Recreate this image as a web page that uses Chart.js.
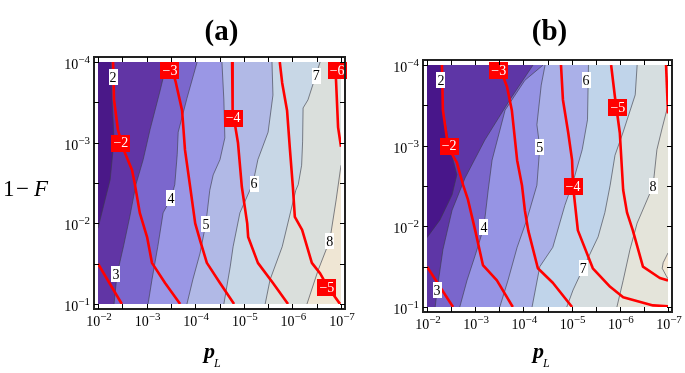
<!DOCTYPE html>
<html><head><meta charset="utf-8">
<script src="https://cdn.jsdelivr.net/npm/chart.js@4.4.1/dist/chart.umd.min.js"></script>
<style>
html,body{margin:0;padding:0;background:#fff;}
#wrap{position:relative;width:685px;height:373px;overflow:hidden;}
canvas{position:absolute;left:0;top:0;}
</style></head><body>
<div id="wrap"><canvas id="ca" width="685" height="373"></canvas><canvas id="cb" width="685" height="373"></canvas></div>
<script>
// ---- axis ranges (log10 values) ----
const X_RANGE = [-2, -7];          // log10 p_L : left -> right
const Y_RANGE = [-4, -1];          // log10 (1-F): top -> bottom
const X_LABEL_EXP = [-2, -3, -4, -5, -6, -7];
const Y_LABEL_EXP = [-4, -3, -2, -1];
const X_FRAME_TICKS = [-2, -2.5, -3, -3.5, -4, -4.5, -5, -5.5, -6, -6.5, -7];
const Y_FRAME_TICKS = [-4, -3.5, -3, -2.5, -2, -1.5, -1];

// ---- panel (a): contour levels [log10 x, log10 y] ----
const A_LEVELS = [2, 3, 4, 5, 6, 7, 8];
const A_C2 = [[-2.27,-4.00],[-2.29,-3.53],[-2.33,-3.03],[-2.25,-2.54],[-2.12,-2.23],[-2.00,-1.94]];
const A_C3 = [[-3.42,-4.00],[-3.28,-3.65],[-3.07,-3.16],[-2.93,-2.79],[-2.78,-2.48],[-2.66,-2.10],[-2.53,-1.73],[-2.39,-1.36],[-2.33,-1.00]];
const A_C4 = [[-4.04,-4.00],[-3.83,-3.55],[-3.65,-3.13],[-3.63,-2.85],[-3.58,-2.48],[-3.50,-2.31],[-3.34,-2.13],[-3.23,-1.71],[-3.11,-1.30],[-3.03,-1.00]];
const A_C5 = [[-4.55,-4.00],[-4.59,-3.53],[-4.61,-3.06],[-4.51,-2.79],[-4.37,-2.60],[-4.30,-2.41],[-4.22,-2.00],[-4.10,-1.63],[-3.95,-1.30],[-3.83,-1.00]];
const A_C6 = [[-5.58,-4.00],[-5.60,-3.59],[-5.50,-3.13],[-5.29,-2.79],[-5.19,-2.50],[-4.92,-2.13],[-4.78,-1.71],[-4.72,-1.46],[-4.59,-1.00]];
const A_C7 = [[-6.57,-4.00],[-6.47,-3.81],[-6.32,-3.53],[-6.22,-3.43],[-6.21,-3.01],[-6.19,-2.72],[-6.12,-2.48],[-6.07,-2.41],[-5.79,-1.71],[-5.54,-1.30],[-5.44,-1.00]];
const A_C8 = [[-7.00,-2.72],[-6.90,-2.29],[-6.77,-1.79],[-6.53,-1.42],[-6.30,-1.00]];
// red curves (a)
const A_R1 = [[-2.00,-1.50],[-2.49,-1.00]];
const A_R2 = [[-2.31,-4.00],[-2.33,-3.53],[-2.41,-3.16],[-2.53,-2.91],[-2.70,-2.66],[-2.76,-2.48],[-2.86,-2.13],[-3.01,-1.83],[-3.11,-1.51],[-3.38,-1.26],[-3.69,-1.00]];
const A_R3 = [[-3.48,-4.00],[-3.60,-3.75],[-3.73,-3.40],[-3.79,-2.91],[-3.89,-2.48],[-4.00,-2.00],[-4.10,-1.79],[-4.24,-1.51],[-4.51,-1.26],[-4.80,-1.00]];
const A_R4 = [[-4.76,-4.00],[-4.77,-3.40],[-4.88,-3.00],[-4.96,-2.45],[-5.07,-2.00],[-5.09,-1.83],[-5.29,-1.51],[-5.60,-1.26],[-5.91,-1.00]];
const A_R5 = [[-5.74,-4.00],[-5.79,-3.74],[-5.89,-3.40],[-5.95,-2.91],[-6.01,-2.45],[-6.05,-2.08],[-6.20,-1.92],[-6.40,-1.51],[-6.57,-1.38],[-6.73,-1.21],[-6.98,-1.00]];
const A_R6 = [[-6.88,-4.00],[-6.90,-3.74],[-6.94,-3.19],[-7.00,-2.95]];
// labels (a)
const A_LEVEL_TEXT = ['2','3','4','5','6','7','8'];
const A_LEVEL_POS = [[-2.31,-3.81],[-2.37,-1.37],[-3.50,-2.31],[-4.22,-1.99],[-5.21,-2.49],[-6.49,-3.83],[-6.77,-1.78]];
const A_RED_TEXT = ['\u22122','\u22123','\u22124','\u22125','\u22126'];
const A_RED_POS = [[-2.47,-3.00],[-3.48,-3.90],[-4.78,-3.31],[-6.71,-1.21],[-6.92,-3.90]];

// ---- panel (b) ----
const B_LEVELS = [2, 3, 4, 5, 6, 7, 8, 9];
const B_C2 = [[-2.29,-4.00],[-2.33,-3.44],[-2.46,-3.01],[-2.62,-2.64],[-2.52,-2.39],[-2.27,-2.08],[-2.00,-1.86]];
const B_C3 = [[-4.20,-4.00],[-3.72,-3.57],[-3.20,-3.07],[-2.79,-2.60],[-2.52,-2.20],[-2.33,-1.71],[-2.21,-1.21],[-2.17,-1.00]];
const B_C4 = [[-4.41,-4.00],[-4.03,-3.81],[-3.62,-3.44],[-3.35,-2.82],[-3.27,-2.45],[-3.18,-1.99],[-3.00,-1.64],[-2.83,-1.33],[-2.68,-1.00]];
const B_C5 = [[-4.45,-4.00],[-4.37,-3.75],[-4.28,-3.26],[-4.34,-2.98],[-4.28,-2.51],[-4.07,-2.08],[-3.87,-1.74],[-3.68,-1.33],[-3.51,-1.00]];
const B_C6 = [[-5.35,-4.00],[-5.33,-3.32],[-5.22,-2.95],[-5.03,-2.55],[-4.86,-2.26],[-4.61,-1.74],[-4.34,-1.50],[-4.18,-1.00]];
const B_C7 = [[-6.36,-4.00],[-6.32,-3.63],[-6.07,-3.17],[-5.90,-2.88],[-5.80,-2.51],[-5.69,-2.17],[-5.55,-1.87],[-5.32,-1.58],[-5.24,-1.48],[-5.03,-1.21],[-4.90,-1.00]];
const B_C8 = [[-7.00,-3.50],[-6.88,-3.22],[-6.77,-2.95],[-6.69,-2.50],[-6.36,-2.04],[-6.21,-1.71],[-6.07,-1.33],[-5.94,-1.00]];
const B_C9 = [[-7.00,-1.67],[-6.90,-1.55],[-6.88,-1.48],[-6.96,-1.39],[-7.00,-1.35]];
// red curves (b)
const B_R1 = [[-2.00,-1.50],[-2.54,-1.00]];
const B_R2 = [[-2.31,-4.00],[-2.33,-3.44],[-2.44,-2.98],[-2.62,-2.79],[-2.75,-2.51],[-2.85,-2.33],[-3.00,-1.95],[-3.16,-1.52],[-3.45,-1.33],[-3.78,-1.00]];
const B_R3 = [[-3.49,-4.00],[-3.66,-3.73],[-3.76,-3.44],[-3.87,-2.82],[-3.97,-2.51],[-4.03,-2.20],[-4.10,-1.95],[-4.30,-1.48],[-4.61,-1.30],[-5.01,-1.00]];
const B_R4 = [[-4.78,-4.00],[-4.82,-3.57],[-4.93,-3.16],[-5.01,-2.82],[-5.03,-2.50],[-5.13,-1.95],[-5.44,-1.48],[-5.80,-1.25],[-6.07,-1.12],[-6.69,-1.02],[-7.00,-1.01]];
const B_R5 = [[-5.82,-4.00],[-5.90,-3.60],[-6.00,-3.16],[-6.07,-2.45],[-6.15,-2.17],[-6.27,-1.95],[-6.48,-1.50],[-6.83,-1.36],[-7.00,-1.33]];
const B_R6 = [[-6.96,-4.00],[-7.00,-3.40]];
// labels (b)
const B_LEVEL_TEXT = ['2','3','4','5','6','7','8'];
const B_LEVEL_POS = [[-2.29,-3.81],[-2.21,-1.21],[-3.18,-1.99],[-4.34,-2.98],[-5.30,-3.81],[-5.24,-1.48],[-6.69,-2.50]];
const B_RED_TEXT = ['\u22122','\u22123','\u22124','\u22125'];
const B_RED_POS = [[-2.46,-3.00],[-3.49,-3.94],[-5.03,-2.50],[-5.96,-3.48]];

// ---- styles ----
const A_FILLS = ['#4a1888','#6135a5','#7b67cd','#9a97e5','#b1b9e6','#c8d7e6','#dadfdc','#efe6d4'];
const B_FILLS = ['#48168a','#5e36a6','#7a66cc','#9694e4','#aab0e8','#c0d4ea','#d6dee0','#e4e4da','#f0e6d4'];
const GRAY_LINE = 'rgba(60,62,72,0.62)';
const RED = '#ff0000';
const SERIF = "'Liberation Serif','Times New Roman',serif";

function perim(p) {
  const [xL, xR] = X_RANGE, [yT, yB] = Y_RANGE, e = 1e-6;
  const [x, y] = p;
  if (Math.abs(y - yB) < e) return (x - xR) / (xL - xR);
  if (Math.abs(x - xL) < e) return 1 + (yB - y) / (yB - yT);
  if (Math.abs(y - yT) < e) return 2 + (x - xL) / (xR - xL);
  return 3 + (y - yT) / (yB - yT);
}
function regionPolygon(line) {
  const corners = [[X_RANGE[1], Y_RANGE[1]], [X_RANGE[0], Y_RANGE[1]], [X_RANGE[0], Y_RANGE[0]], [X_RANGE[1], Y_RANGE[0]]];
  const te = perim(line[line.length - 1]);
  let ts = perim(line[0]);
  if (ts <= te) ts += 4;
  const pts = line.slice();
  for (let c = Math.floor(te) + 1; c < ts; c++) pts.push(corners[c % 4]);
  return pts;
}
const toXY = arr => arr.map(p => ({x: p[0], y: p[1]}));

function makePlugin(panel) {
  return {
    id: 'deco',
    beforeDatasetsDraw(chart) {
      const {ctx, chartArea: a} = chart;
      ctx.save();
      ctx.fillStyle = panel.fills[panel.fills.length - 1];
      ctx.fillRect(a.left, a.top, a.right - a.left, a.bottom - a.top);
      ctx.restore();
    },
    afterDatasetsDraw(chart) {
      const {ctx} = chart;
      const xs = chart.scales.x, ys = chart.scales.y;
      ctx.save();
      ctx.textAlign = 'center'; ctx.textBaseline = 'middle';
      ctx.font = '14px ' + SERIF;
      panel.levelText.forEach((t, i) => {
        const px = xs.getPixelForValue(panel.levelPos[i][0]);
        const py = ys.getPixelForValue(panel.levelPos[i][1]);
        const w = ctx.measureText(t).width;
        ctx.fillStyle = '#ffffff';
        ctx.fillRect(Math.round(px - w / 2 - 1), Math.round(py - 8), Math.round(w + 2), 16);
        ctx.fillStyle = '#000';
        ctx.fillText(t, px, py + 1);
      });
      panel.redText.forEach((t, i) => {
        const px = xs.getPixelForValue(panel.redPos[i][0]);
        const py = ys.getPixelForValue(panel.redPos[i][1]);
        const w = ctx.measureText(t).width;
        ctx.fillStyle = RED;
        ctx.fillRect(Math.round(px - w / 2 - 2), Math.round(py - 8), Math.round(w + 4), 17);
        ctx.fillStyle = '#fff';
        ctx.fillText(t, px, py + 1);
      });
      ctx.restore();
    },
    afterDraw(chart) {
      const {ctx, chartArea: a} = chart;
      const xs = chart.scales.x, ys = chart.scales.y;
      const f = {l: a.left - 4, r: a.right + 4, t: a.top - 5, b: a.bottom + 5};
      ctx.save();
      ctx.strokeStyle = '#222'; ctx.lineWidth = 2;
      ctx.strokeRect(f.l, f.t, f.r - f.l, f.b - f.t);
      ctx.lineWidth = 1; ctx.strokeStyle = '#000';
      ctx.beginPath();
      X_FRAME_TICKS.forEach(v => {
        const px = Math.round(xs.getPixelForValue(v)) + 0.5;
        ctx.moveTo(px, f.t); ctx.lineTo(px, f.t + 5);
        ctx.moveTo(px, f.b); ctx.lineTo(px, f.b - 5);
      });
      Y_FRAME_TICKS.forEach(v => {
        const py = Math.round(ys.getPixelForValue(v)) + 0.5;
        ctx.moveTo(f.l, py); ctx.lineTo(f.l + 5, py);
        ctx.moveTo(f.r, py); ctx.lineTo(f.r - 5, py);
      });
      ctx.stroke();
      ctx.fillStyle = '#000'; ctx.textBaseline = 'alphabetic'; ctx.textAlign = 'left';
      const big = '14px ' + SERIF, small = '11px ' + SERIF;
      X_LABEL_EXP.forEach(e => {
        const ex = '\u2212' + Math.abs(e);
        ctx.font = big; const w1 = ctx.measureText('10').width;
        ctx.font = small; const w2 = ctx.measureText(ex).width;
        const x0 = xs.getPixelForValue(e) - (w1 + w2) / 2 + 1;
        const yb = a.bottom + 22;
        ctx.font = big; ctx.fillText('10', x0, yb);
        ctx.font = small; ctx.fillText(ex, x0 + w1, yb - 6);
      });
      Y_LABEL_EXP.forEach(e => {
        const ex = '\u2212' + Math.abs(e);
        ctx.font = big; const w1 = ctx.measureText('10').width;
        ctx.font = small; const w2 = ctx.measureText(ex).width;
        const x0 = f.l - 4 - (w1 + w2);
        const py = ys.getPixelForValue(e);
        ctx.font = big; ctx.fillText('10', x0, py + 7);
        ctx.font = small; ctx.fillText(ex, x0 + w1, py + 1);
      });
      ctx.textAlign = 'center';
      ctx.font = 'bold 29px ' + SERIF;
      ctx.fillText(panel.title, (a.left + a.right) / 2 + 2, 40);
      ctx.textAlign = 'left';
      const px0 = a.left + 106;
      ctx.font = 'bold italic 22px ' + SERIF;
      ctx.fillText('p', px0, 358);
      const pw = ctx.measureText('p').width;
      ctx.font = 'italic 12px ' + SERIF;
      ctx.fillText('L', px0 + pw - 1, 367);
      if (panel.yTitle) {
        ctx.font = '23px ' + SERIF;
        ctx.fillText('1', 3, 196);
        ctx.fillText('\u2212', 16, 196);
        ctx.font = 'italic 23px ' + SERIF;
        ctx.fillText('F', 34, 196);
      }
      ctx.restore();
    }
  };
}

function makeChart(id, panel) {
  const datasets = [];
  panel.contours.forEach((c, i) => {
    datasets.push({
      label: 'region < ' + panel.levels[i],
      data: toXY(regionPolygon(c)),
      backgroundColor: panel.fills[i], borderColor: 'rgba(0,0,0,0)', borderWidth: 0,
      fill: 'shape', pointRadius: 0, tension: 0, order: 50 + panel.levels[i]
    });
  });
  panel.contours.forEach((c, i) => {
    datasets.push({
      label: 'level ' + panel.levels[i], data: toXY(c), borderColor: GRAY_LINE, borderWidth: 1,
      fill: false, pointRadius: 0, tension: 0, order: 10
    });
  });
  panel.reds.forEach((c, i) => {
    datasets.push({
      label: 'red ' + i, data: toXY(c), borderColor: RED, borderWidth: 2.6,
      fill: false, pointRadius: 0, tension: 0, order: 1, borderJoinStyle: 'round'
    });
  });
  return new Chart(document.getElementById(id), {
    type: 'line',
    data: {datasets},
    options: {
      responsive: false, animation: false, devicePixelRatio: 1,
      layout: {padding: panel.padding},
      plugins: {legend: {display: false}, tooltip: {enabled: false}},
      scales: {
        x: {type: 'linear', min: X_RANGE[1], max: X_RANGE[0], reverse: true, display: false},
        y: {type: 'linear', min: Y_RANGE[0], max: Y_RANGE[1], reverse: true, display: false}
      }
    },
    plugins: [makePlugin(panel)]
  });
}

makeChart('ca', {
  title: '(a)', yTitle: true,
  padding: {left: 98, right: 685 - 341, top: 62, bottom: 373 - 304},
  levels: A_LEVELS, fills: A_FILLS,
  contours: [A_C2, A_C3, A_C4, A_C5, A_C6, A_C7, A_C8],
  reds: [A_R1, A_R2, A_R3, A_R4, A_R5, A_R6],
  levelText: A_LEVEL_TEXT, levelPos: A_LEVEL_POS, redText: A_RED_TEXT, redPos: A_RED_POS
});
makeChart('cb', {
  title: '(b)', yTitle: false,
  padding: {left: 427, right: 685 - 668, top: 65, bottom: 373 - 307},
  levels: B_LEVELS, fills: B_FILLS,
  contours: [B_C2, B_C3, B_C4, B_C5, B_C6, B_C7, B_C8, B_C9],
  reds: [B_R1, B_R2, B_R3, B_R4, B_R5, B_R6],
  levelText: B_LEVEL_TEXT, levelPos: B_LEVEL_POS, redText: B_RED_TEXT, redPos: B_RED_POS
});
</script></body></html>
